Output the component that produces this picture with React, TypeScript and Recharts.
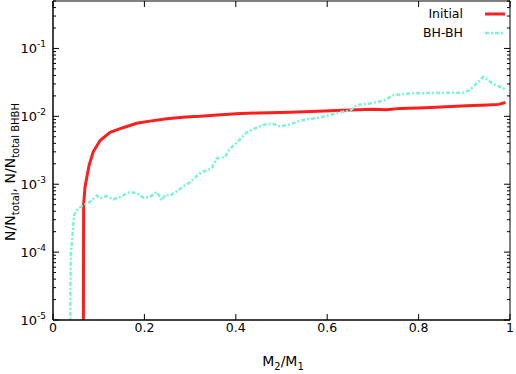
import { LineChart, Line, XAxis, YAxis, ReferenceLine, Legend } from "recharts";

// Initial distribution (red)
const initialX = [0.066, 0.067, 0.07, 0.074, 0.079, 0.088, 0.103, 0.125, 0.153, 0.183, 0.212, 0.249, 0.284, 0.3, 0.322, 0.36, 0.41, 0.45, 0.52, 0.58, 0.65, 0.7, 0.73, 0.76, 0.8, 0.85, 0.905, 0.95, 0.975, 0.99];
const initialY = [1e-7, 5e-4, 9e-4, 1.27e-3, 1.9e-3, 3.0e-3, 4.4e-3, 5.8e-3, 6.8e-3, 7.9e-3, 8.5e-3, 9.2e-3, 9.7e-3, 9.9e-3, 1.0e-2, 1.05e-2, 1.1e-2, 1.12e-2, 1.15e-2, 1.19e-2, 1.24e-2, 1.27e-2, 1.25e-2, 1.31e-2, 1.33e-2, 1.37e-2, 1.43e-2, 1.47e-2, 1.5e-2, 1.6e-2];

// BH-BH (cyan, dash-dot)
const bhbhX = [0.037, 0.038, 0.039, 0.043, 0.046, 0.055, 0.066, 0.081, 0.096, 0.103, 0.117, 0.132, 0.147, 0.168, 0.183, 0.198, 0.212, 0.227, 0.238, 0.246, 0.256, 0.274, 0.285, 0.3, 0.307, 0.325, 0.347, 0.358, 0.376, 0.387, 0.402, 0.424, 0.438, 0.467, 0.482, 0.497, 0.519, 0.54, 0.562, 0.584, 0.599, 0.628, 0.65, 0.665, 0.694, 0.723, 0.745, 0.788, 0.832, 0.898, 0.912, 0.942, 0.963, 0.989];
const bhbhY = [1e-7, 3e-5, 9.6e-5, 1.9e-4, 3.5e-4, 4.4e-4, 4.9e-4, 5.5e-4, 6.8e-4, 6.2e-4, 6.7e-4, 6.0e-4, 6.5e-4, 7.7e-4, 7.4e-4, 6.3e-4, 6.5e-4, 7.7e-4, 5.8e-4, 7.0e-4, 6.8e-4, 8.1e-4, 9.3e-4, 1.07e-3, 1.2e-3, 1.5e-3, 1.7e-3, 2.4e-3, 2.5e-3, 3.3e-3, 4.1e-3, 5.8e-3, 6.5e-3, 7.7e-3, 7.7e-3, 7.1e-3, 7.6e-3, 8.6e-3, 9.2e-3, 9.6e-3, 1.02e-2, 1.15e-2, 1.21e-2, 1.47e-2, 1.55e-2, 1.7e-2, 2.06e-2, 2.18e-2, 2.21e-2, 2.23e-2, 2.44e-2, 3.83e-2, 3.0e-2, 2.52e-2];

const xTicks = [0, 0.2, 0.4, 0.6, 0.8, 1];
const xTickLabels = ["0", "0.2", "0.4", "0.6", "0.8", "1"];
const yMajor = [1e-5, 1e-4, 1e-3, 1e-2, 1e-1];
const yMajorLabels = ["-5", "-4", "-3", "-2", "-1"];

const RED = "#ff1e1e";
const CYAN = "#78f4d6";
const FONT = "DejaVu Sans, sans-serif";

const PLOT_W = 457;
const PLOT_H = 319;

const initialData = initialX.map((x, i) => ({ x, y: initialY[i] }));
const bhbhData = bhbhX.map((x, i) => ({ x, y: bhbhY[i] }));

// log ticks: majors plus 2..9 minors up to the top of the domain
const yTicks: number[] = [];
yMajor.forEach((m) => {
  for (let k = 1; k <= 9; k++) {
    const v = m * k;
    if (v <= 0.5 + 1e-9) yTicks.push(v);
  }
});

function XTick(props: any) {
  const { x, y, payload } = props;
  const idx = xTicks.indexOf(payload.value);
  return (
    <g>
      <line x1={x} x2={x} y1={y} y2={y - 6} stroke="#000" strokeWidth={1} />
      <line x1={x} x2={x} y1={y - PLOT_H} y2={y - PLOT_H + 6} stroke="#000" strokeWidth={1} />
      <text x={x} y={y + 12} textAnchor="middle" fontSize={12.5} fontFamily={FONT} fill="#000">
        {idx >= 0 ? xTickLabels[idx] : ""}
      </text>
    </g>
  );
}

function YTick(props: any) {
  const { x, y, payload } = props;
  const mi = yMajor.findIndex((m) => Math.abs(m - payload.value) / m < 1e-6);
  const len = mi >= 0 ? 6 : 3;
  return (
    <g>
      <line x1={x} x2={x + len} y1={y} y2={y} stroke="#000" strokeWidth={1} />
      <line x1={x + PLOT_W} x2={x + PLOT_W - len} y1={y} y2={y} stroke="#000" strokeWidth={1} />
      {mi >= 0 && (
        <text x={x - 7} y={y + 5} textAnchor="end" fontSize={13} fontFamily={FONT} fill="#000">
          10
          <tspan fontSize={9} dy={-6}>{yMajorLabels[mi]}</tspan>
        </text>
      )}
    </g>
  );
}

function XLabel() {
  return (
    <text x={283} y={366} textAnchor="middle" fontSize={14} fontFamily={FONT} fill="#000">
      M<tspan fontSize={10} dy={4}>2</tspan>
      <tspan dy={-4}>/M</tspan>
      <tspan fontSize={10} dy={4}>1</tspan>
    </text>
  );
}

function YLabel() {
  return (
    <text
      x={0}
      y={0}
      transform="translate(15,172) rotate(-90)"
      textAnchor="middle"
      fontSize={14}
      fontFamily={FONT}
      fill="#000"
    >
      N/N<tspan fontSize={10} dy={4}>total</tspan>
      <tspan dy={-4}>, N/N</tspan>
      <tspan fontSize={10} dy={4}>total BHBH</tspan>
    </text>
  );
}

function LegendBox() {
  const rows = [
    { name: "Initial", color: RED, dash: undefined as string | undefined, w: 3 },
    { name: "BH-BH", color: CYAN, dash: "4 2 2 2", w: 2.5 },
  ];
  return (
    <div style={{ fontFamily: FONT, fontSize: 12.5, lineHeight: "19px" }}>
      {rows.map((r) => (
        <div key={r.name} style={{ display: "flex", alignItems: "center", justifyContent: "flex-end", height: 19 }}>
          <span>{r.name}</span>
          <svg width={42} height={10}>
            <line x1={22} x2={42} y1={5} y2={5} stroke={r.color} strokeWidth={r.w} strokeDasharray={r.dash} />
          </svg>
        </div>
      ))}
    </div>
  );
}

export default function App() {
  return (
    <div style={{ position: "absolute", left: 0, top: 0 }}>
      <LineChart width={516} height={374} margin={{ top: 1, right: 6, bottom: 0, left: 0 }}>
        <XAxis
          dataKey="x"
          type="number"
          domain={[0, 1]}
          ticks={xTicks}
          interval={0}
          height={54}
          tickSize={0}
          tickMargin={0}
          tick={<XTick />}
          axisLine={{ stroke: "#000", strokeWidth: 1.5 }}
          tickLine={false}
          label={<XLabel />}
        />
        <YAxis
          type="number"
          scale="log"
          domain={[1e-5, 0.5]}
          allowDataOverflow
          ticks={yTicks}
          interval={0}
          width={53}
          tickSize={0}
          tickMargin={0}
          tick={<YTick />}
          axisLine={{ stroke: "#444", strokeWidth: 2 }}
          tickLine={false}
          label={<YLabel />}
        />
        <ReferenceLine x={1} stroke="#000" strokeWidth={1} ifOverflow="visible" />
        <ReferenceLine y={0.5} stroke="#000" strokeWidth={1} ifOverflow="visible" />
        <Legend
          verticalAlign="top"
          align="right"
          wrapperStyle={{ position: "absolute", top: 4, right: 11, left: "auto", width: 160, height: 0, overflow: "visible" }}
          content={<LegendBox />}
        />
        <Line
          data={initialData}
          dataKey="y"
          name="Initial"
          type="linear"
          stroke={RED}
          strokeWidth={3}
          dot={false}
          isAnimationActive={false}
        />
        <Line
          data={bhbhData}
          dataKey="y"
          name="BH-BH"
          type="linear"
          stroke={CYAN}
          strokeWidth={2.5}
          strokeDasharray="4 2 2 2"
          dot={false}
          isAnimationActive={false}
        />
      </LineChart>
    </div>
  );
}
